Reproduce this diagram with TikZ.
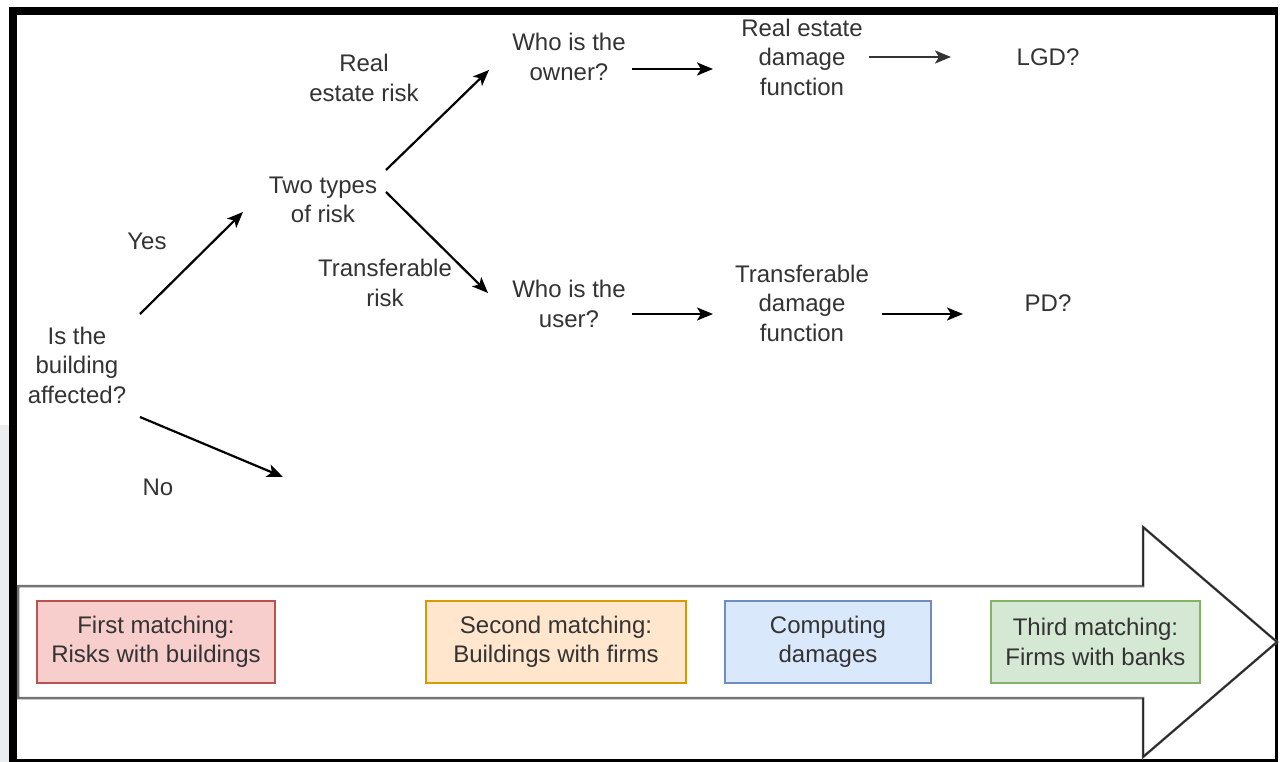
\documentclass[tikz,border=0pt]{standalone}
\usepackage{fontspec}
\setmainfont{Liberation Sans}
\usetikzlibrary{arrows.meta}
\definecolor{txt}{HTML}{333333}
\definecolor{redF}{HTML}{F8CECC}\definecolor{redD}{HTML}{B85450}
\definecolor{orgF}{HTML}{FFE6CC}\definecolor{orgD}{HTML}{D79B00}
\definecolor{bluF}{HTML}{DAE8FC}\definecolor{bluD}{HTML}{6C8EBF}
\definecolor{grnF}{HTML}{D5E8D4}\definecolor{grnD}{HTML}{82B366}
\definecolor{sideg}{HTML}{ECEDEF}
\tikzset{
  lbl/.style={text=txt, align=center, inner sep=0pt, font=\fontsize{24}{29.5}\selectfont},
  arr/.style={draw=black, line width=2.2pt, -{Stealth[length=16pt,width=13pt,inset=4pt]}},
  phase/.style={lbl, minimum height=82pt, line width=1.5pt},
}
\begin{document}
\begin{tikzpicture}[x=1pt,y=-1pt]
\useasboundingbox (0,0) rectangle (1280,762);
\fill[white] (0,0) rectangle (1280,762);
\fill[sideg] (0,425) rectangle (9,762);
% frame
\fill[black] (9,7) rectangle (1278,15);
\fill[black] (9,7) rectangle (17,762);
\fill[black] (1275,7) rectangle (1278,762);
\fill[black] (17,759) rectangle (1278,762);
% big arrow
\draw[draw=black!55, line width=2.5pt, fill=white, line join=miter]
  (18,586) -- (1143,586) -- (1143,527) -- (1277,642) -- (1143,757) -- (1143,698) -- (18,698) -- cycle;
\draw[black!85, line width=1.5pt, line join=miter]
  (1143,586) -- (1143,527) -- (1277,642) -- (1143,757) -- (1143,698);
% phase boxes
\node[phase, fill=redF, draw=redD, minimum width=238pt] (p1) at (156,642) {First matching:\\Risks with buildings};
\node[phase, fill=orgF, draw=orgD, minimum width=260pt] (p2) at (556,642) {Second matching:\\Buildings with firms};
\node[phase, fill=bluF, draw=bluD, minimum width=206pt] (p3) at (828,642) {Computing\\damages};
\node[phase, fill=grnF, draw=grnD, minimum width=209pt] (p4) at (1095.5,642) {Third matching:\\Firms with banks};
% labels
\node[lbl] (bld) at (77,365) {Is the\\building\\affected?};
\node[lbl] (yes) at (147,241) {Yes};
\node[lbl] (no) at (158,487) {No};
\node[lbl] (two) at (323,200) {Two types\\of risk};
\node[lbl] (rer) at (364,78) {Real\\estate risk};
\node[lbl] (trr) at (385,283) {Transferable\\risk};
\node[lbl] (own) at (569,57) {Who is the\\owner?};
\node[lbl] (usr) at (569,304) {Who is the\\user?};
\node[lbl] (redf) at (802,57) {Real estate\\damage\\function};
\node[lbl] (trdf) at (802,303) {Transferable\\damage\\function};
\node[lbl] (lgd) at (1048,57) {LGD?};
\node[lbl] (pd) at (1048,303) {PD?};
% connector end points
\coordinate (yS) at (140,314); \coordinate (yE) at (243,212);
\coordinate (nS) at (140,417); \coordinate (nE) at (283,477);
\coordinate (rS) at (386,170); \coordinate (rE) at (489,70);
\coordinate (tS) at (386,192); \coordinate (tE) at (488,293);
\coordinate (oS) at (632,69);  \coordinate (oE) at (713,69);
\coordinate (dS) at (869,57);  \coordinate (dE) at (951,57);
\coordinate (uS) at (632,314); \coordinate (uE) at (713,314);
\coordinate (fS) at (882,314); \coordinate (fE) at (963,314);
\draw[arr] (yS) -- (yE);
\draw[arr] (nS) -- (nE);
\draw[arr] (rS) -- (rE);
\draw[arr] (tS) -- (tE);
\draw[arr] (oS) -- (oE);
\draw[arr, draw=black!80] (dS) -- (dE);
\draw[arr] (uS) -- (uE);
\draw[arr] (fS) -- (fE);
\end{tikzpicture}
\end{document}
